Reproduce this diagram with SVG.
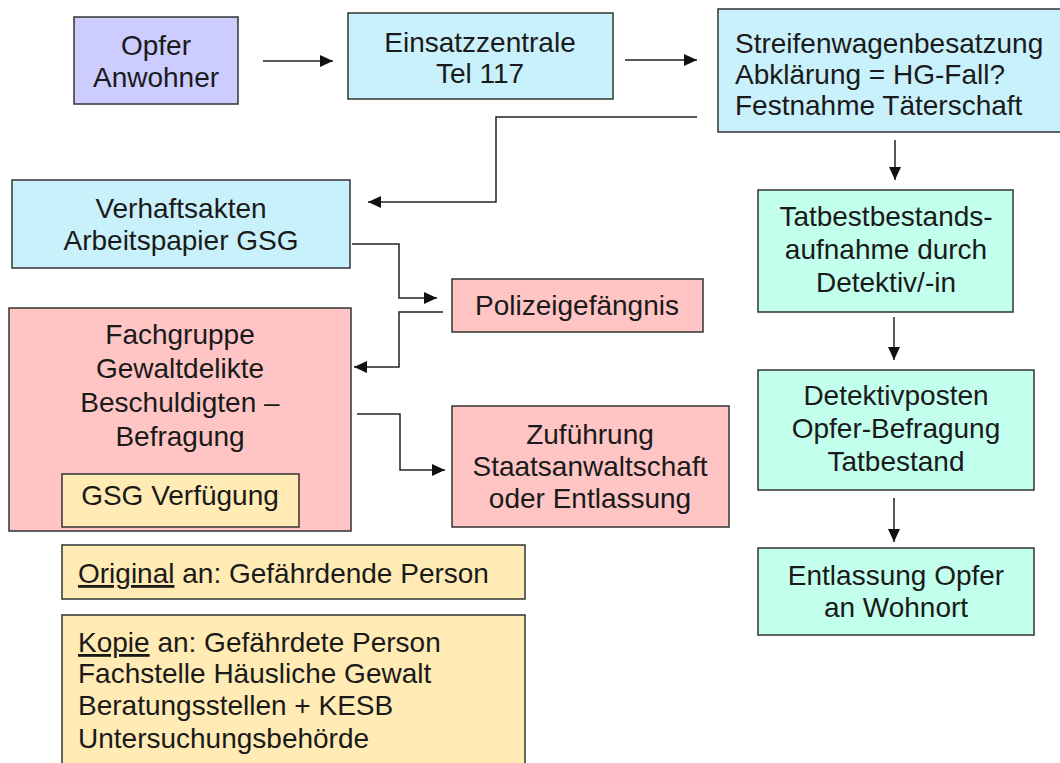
<svg xmlns="http://www.w3.org/2000/svg" width="1060" height="763" viewBox="0 0 1060 763">
<defs>
<style>
.box{stroke:#333;stroke-width:1.5}
.lav{fill:#CCCCFF}
.blue{fill:#C9F1FB}
.pink{fill:#FFC4C4}
.mint{fill:#C2FFEC}
.yel{fill:#FFEBB3}
text{font-family:"Liberation Sans",Arial,sans-serif;font-size:28px;fill:#1a1a1a}
.c{text-anchor:middle}
.con{fill:none;stroke:#222;stroke-width:1.5}
</style>
<marker id="ah" markerUnits="userSpaceOnUse" markerWidth="14" markerHeight="13" refX="13" refY="6" orient="auto">
<path d="M0,0 L13,6 L0,12 z" fill="#111"/>
</marker>
</defs>
<rect width="1060" height="763" fill="#fff"/>
<g id="connectors">
<line class="con" x1="263" y1="61" x2="333" y2="61" marker-end="url(#ah)"/>
<line class="con" x1="625" y1="60" x2="697" y2="60" marker-end="url(#ah)"/>
<line class="con" x1="895" y1="140" x2="895" y2="180" marker-end="url(#ah)"/>
<polyline class="con" points="697,117 496,117 496,202 368,202" marker-end="url(#ah)"/>
<polyline class="con" points="352,244 399,244 399,298 437,298" marker-end="url(#ah)"/>
<polyline class="con" points="443,312 399,312 399,367 354,367" marker-end="url(#ah)"/>
<polyline class="con" points="357,414 400,414 400,470 445,470" marker-end="url(#ah)"/>
<line class="con" x1="894" y1="317" x2="894" y2="360" marker-end="url(#ah)"/>
<line class="con" x1="894" y1="498" x2="894" y2="542" marker-end="url(#ah)"/>
</g>
<g id="opfer">
<rect class="box lav" x="74" y="17" width="164" height="87"/>
<text class="c" x="156" y="55">Opfer</text>
<text class="c" x="156" y="87">Anwohner</text>
</g>
<g id="einsatzzentrale">
<rect class="box blue" x="348" y="13" width="265" height="86"/>
<text class="c" x="480" y="52">Einsatzzentrale</text>
<text class="c" x="480" y="83">Tel 117</text>
</g>
<g id="streifenwagen">
<rect class="box blue" x="718" y="9" width="350" height="123"/>
<text x="735" y="53">Streifenwagenbesatzung</text>
<text x="735" y="84">Abklärung = HG-Fall?</text>
<text x="735" y="115">Festnahme Täterschaft</text>
</g>
<g id="verhaftsakten">
<rect class="box blue" x="12" y="180" width="338" height="88"/>
<text class="c" x="181" y="218">Verhaftsakten</text>
<text class="c" x="181" y="250">Arbeitspapier GSG</text>
</g>
<g id="polizeigefaengnis">
<rect class="box pink" x="452" y="279" width="251" height="53"/>
<text class="c" x="577" y="315">Polizeigefängnis</text>
</g>
<g id="fachgruppe">
<rect class="box pink" x="9" y="308" width="342" height="223"/>
<text class="c" x="180" y="344">Fachgruppe</text>
<text class="c" x="180" y="378">Gewaltdelikte</text>
<text class="c" x="180" y="412">Beschuldigten –</text>
<text class="c" x="180" y="446">Befragung</text>
</g>
<g id="gsg-verfuegung">
<rect class="box yel" x="62" y="474" width="237" height="53"/>
<text class="c" x="180" y="505">GSG Verfügung</text>
</g>
<g id="zufuehrung">
<rect class="box pink" x="452" y="406" width="277" height="121"/>
<text class="c" x="590" y="444">Zuführung</text>
<text class="c" x="590" y="476">Staatsanwaltschaft</text>
<text class="c" x="590" y="508">oder Entlassung</text>
</g>
<g id="tatbestand">
<rect class="box mint" x="758" y="190" width="255" height="122"/>
<text class="c" x="886" y="226">Tatbestbestands-</text>
<text class="c" x="886" y="259">aufnahme durch</text>
<text class="c" x="886" y="292">Detektiv/-in</text>
</g>
<g id="detektivposten">
<rect class="box mint" x="758" y="370" width="276" height="120"/>
<text class="c" x="896" y="405">Detektivposten</text>
<text class="c" x="896" y="438">Opfer-Befragung</text>
<text class="c" x="896" y="471">Tatbestand</text>
</g>
<g id="entlassung">
<rect class="box mint" x="758" y="548" width="276" height="87"/>
<text class="c" x="896" y="585">Entlassung Opfer</text>
<text class="c" x="896" y="617">an Wohnort</text>
</g>
<g id="original">
<rect class="box yel" x="62" y="545" width="463" height="54"/>
<text x="78" y="583"><tspan text-decoration="underline">Original</tspan> an: Gefährdende Person</text>
</g>
<g id="kopie">
<rect class="box yel" x="62" y="615" width="463" height="160"/>
<text x="78" y="652"><tspan text-decoration="underline">Kopie</tspan> an: Gefährdete Person</text>
<text x="78" y="683">Fachstelle Häusliche Gewalt</text>
<text x="78" y="715">Beratungsstellen + KESB</text>
<text x="78" y="748">Untersuchungsbehörde</text>
</g>
</svg>
